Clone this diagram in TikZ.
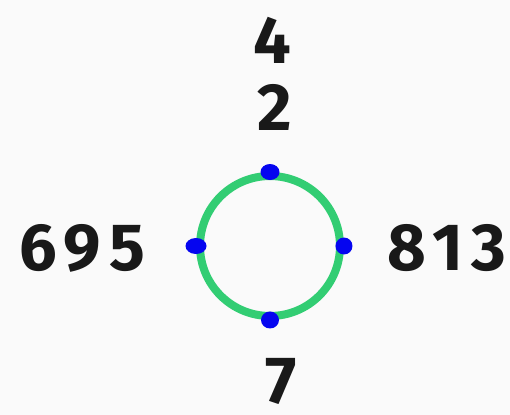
\documentclass[tikz,border=0pt]{standalone}
\usepackage{fontspec}
\setmainfont{Fira Sans}
\usepackage{tikz}
\usetikzlibrary{positioning}
\definecolor{paper}{RGB}{250,250,250}
\definecolor{ringgreen}{RGB}{50,205,115}
\definecolor{dotblue}{RGB}{5,5,240}
\definecolor{ink}{RGB}{25,25,25}

\begin{document}
\begin{tikzpicture}[x=0.02cm, y=-0.02cm, every node/.style={inner sep=0pt, text=ink, font=\fontsize{38}{40}\selectfont\bfseries\addfontfeature{LetterSpace=12}}]
      \fill[paper] (0,0) rectangle (510,415);
      \useasboundingbox (0,0) rectangle (510,415);
      \node[draw=ringgreen, line width=0.16cm, circle, minimum size=2.8cm] (ring) at (270,246) {};
      \fill[dotblue] (ring.north) ellipse (0.19cm and 0.16cm);
      \fill[dotblue] (ring.west) ellipse (0.21cm and 0.16cm);
      \fill[dotblue] (ring.east) ellipse (0.17cm and 0.17cm);
      \fill[dotblue] (ring.south) ellipse (0.18cm and 0.17cm);
      \node (top) at (272,40) {4};
      \node (upper) at (275,107) {2};
      \node (left) at (82,248) {695};
      \node (right) at (447,248) {813};
      \node (bottom) at (281,381) {7};
    \end{tikzpicture}
\end{document}
